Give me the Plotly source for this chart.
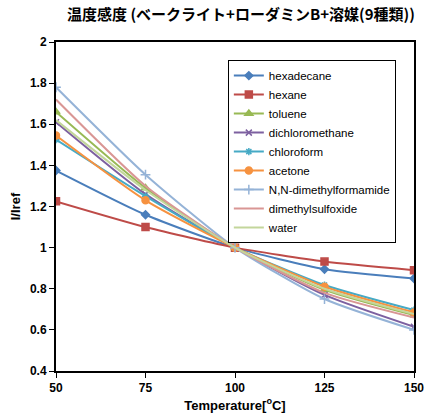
import plotly.graph_objects as go

temps = [50, 75, 100, 125, 150]
names = ["hexadecane", "hexane", "toluene", "dichloromethane", "chloroform",
         "acetone", "N,N-dimethylformamide", "dimethylsulfoxide", "water"]
hexadecane = [1.375, 1.16, 1.0, 0.895, 0.85]
hexane = [1.225, 1.10, 1.0, 0.932, 0.89]
toluene = [1.66, 1.29, 1.0, 0.795, 0.672]
dichloromethane = [1.61, 1.26, 1.0, 0.77, 0.615]
chloroform = [1.525, 1.25, 1.0, 0.818, 0.696]
acetone = [1.545, 1.23, 1.0, 0.81, 0.685]
dmf = [1.78, 1.355, 1.0, 0.75, 0.60]
dmso = [1.72, 1.30, 1.0, 0.78, 0.66]
water = [1.62, 1.28, 1.0, 0.80, 0.677]
series = [hexadecane, hexane, toluene, dichloromethane, chloroform, acetone, dmf, dmso, water]
xticks = [50, 75, 100, 125, 150]
yticks = [0.4, 0.6, 0.8, 1.0, 1.2, 1.4, 1.6, 1.8, 2.0]
yticklabels = ["0.4", "0.6", "0.8", "1", "1.2", "1.4", "1.6", "1.8", "2"]

colors = ["#4A7EBB", "#BE4B48", "#98B954", "#7D60A0", "#46AAC5",
          "#F69240", "#95B3D7", "#D99694", "#C3D69B"]
symbols = ["diamond", "square", "triangle-up", "x-thin", "asterisk",
           "circle", "cross-thin", None, None]
sizes = [6, 7, 7, 6, 6, 7, 7, 0, 0]

fig = go.Figure()
for n, ys, c, s, sz in zip(names, series, colors, symbols, sizes):
    mode = "lines+markers" if s else "lines"
    marker = dict(color=c, size=sz, line=dict(color=c, width=1.5))
    if s:
        marker["symbol"] = s
    fig.add_trace(go.Scatter(x=temps, y=ys, name=n, mode=mode,
                             line=dict(color=c, width=2, shape="spline", smoothing=0.6),
                             marker=marker))

font_main = "Liberation Sans, Noto Sans CJK JP, sans-serif"
fig.update_layout(
    width=425, height=417,
    margin=dict(l=56, r=11, t=42, b=46, autoexpand=False),
    paper_bgcolor="white", plot_bgcolor="white",
    font=dict(family=font_main, color="black", size=12),
    title=dict(text="<b>温度感度 (ベークライト+ローダミンB+溶媒(9種類))</b>",
               x=0.567, xanchor="center", y=0.978, yanchor="top",
               font=dict(size=15, family="Noto Sans CJK JP, sans-serif")),
    showlegend=True,
    legend=dict(x=0.48, y=0.945, xanchor="left", yanchor="top",
                bgcolor="white", bordercolor="black", borderwidth=1,
                font=dict(size=11.5, family=font_main), tracegroupgap=0,
                itemwidth=30),
    xaxis=dict(range=[50, 150], tickvals=xticks,
               ticktext=["<b>%d</b>" % v for v in xticks], automargin=False,
               showgrid=False, zeroline=False, showline=True, linecolor="black",
               linewidth=2, mirror=True, ticks="outside", ticklen=5,
               tickcolor="black", tickfont=dict(size=12, family=font_main),
               title=dict(text="<b>Temperature[<sup>o</sup>C]</b>", standoff=6,
                          font=dict(size=13))),
    yaxis=dict(range=[0.4, 2.0], tickvals=yticks,
               ticktext=["<b>%s</b>" % t for t in yticklabels], automargin=False,
               showgrid=False, zeroline=False, showline=True, linecolor="black",
               linewidth=2, mirror=True, ticks="outside", ticklen=5,
               tickcolor="black", tickfont=dict(size=12, family=font_main),
               title=dict(text="<b>I/Iref</b>", standoff=6, font=dict(size=13))),
)
fig.write_html("out.html", config={"displayModeBar": False},
               post_script="document.body.style.margin='0';document.body.style.overflow='hidden';")
